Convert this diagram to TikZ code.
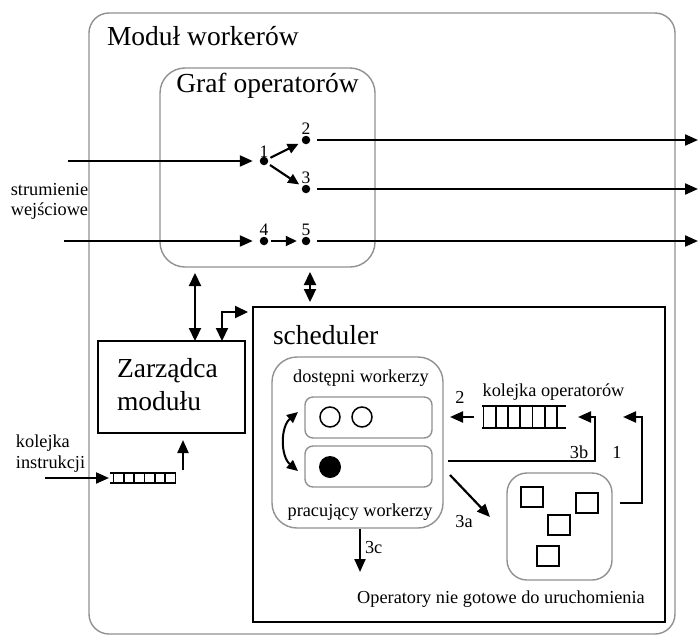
\documentclass[tikz,border=0pt]{standalone}
\usepackage{fontspec}
\setmainfont{Liberation Serif}
\usetikzlibrary{arrows.meta,calc}
\definecolor{gbord}{RGB}{145,145,145}
\begin{document}
\begin{tikzpicture}[x=1pt,y=-1pt,
  every node/.style={outer sep=0pt},
  gbox/.style={draw=gbord, line width=1.4pt, anchor=north west, inner sep=0pt},
  bbox/.style={draw=black, line width=1.8pt, anchor=north west, inner sep=0pt},
  big/.style={inner sep=0pt, font=\fontsize{27.5}{30}\selectfont},
  small/.style={inner sep=0pt, font=\fontsize{18.3}{21}\selectfont},
  num/.style={inner sep=0pt, font=\fontsize{17.5}{20}\selectfont},
  dot/.style={circle, fill=black, inner sep=0pt, minimum size=8.5pt},
  arr/.style={-{Triangle[length=13pt,width=11pt]}, line width=2.2pt},
  sarr/.style={-{Triangle[length=11pt,width=10pt]}, line width=2.2pt},
  dbl/.style={{Triangle[length=13pt,width=12pt]}-{Triangle[length=13pt,width=12pt]}, line width=2.2pt},
  qline/.style={line width=1.6pt},
  sq/.style={draw=black, line width=1.5pt, minimum width=22pt, minimum height=20pt, anchor=north west, inner sep=0pt},
  ]
\useasboundingbox (0,0) rectangle (698,637);

% boxes
\node[gbox, rounded corners=20pt, minimum width=586pt, minimum height=621pt] (mod) at (89,13) {};
\node[gbox, rounded corners=25pt, minimum width=215pt, minimum height=199pt] (graf) at (160,68) {};
\node[bbox, minimum width=147pt, minimum height=92pt] (zarz) at (98,341) {};
\node[bbox, minimum width=412pt, minimum height=315pt] (sched) at (253,307) {};
\node[gbox, rounded corners=25pt, minimum width=171pt, minimum height=171pt] (work) at (272,357) {};
\node[gbox, rounded corners=8pt, minimum width=127pt, minimum height=41pt] (wb1) at (305,397) {};
\node[gbox, rounded corners=8pt, minimum width=127pt, minimum height=41pt] (wb2) at (305,446) {};
\node[gbox, rounded corners=20pt, minimum width=105pt, minimum height=107pt] (nr) at (507,473) {};
\node[sq] (sq1) at (521,487) {};
\node[sq] (sq2) at (576,493) {};
\node[sq] (sq3) at (548,515) {};
\node[sq] (sq4) at (537,546) {};

% workers circles
\node[circle, draw, line width=1.5pt, minimum size=20pt, inner sep=0pt] (c1) at (330,417) {};
\node[circle, draw, line width=1.5pt, minimum size=20pt, inner sep=0pt] (c2) at (362,417) {};
\node[circle, fill=black, minimum size=22pt, inner sep=0pt] (c3) at (330,467) {};

% texts
\node[big, anchor=base west] (tmod) at (107,45) {Moduł workerów};
\node[big, anchor=base] (tgraf) at (267.5,92) {Graf operatorów};
\node[big, anchor=base west] (tsch) at (273,344) {scheduler};
\node[big, anchor=base west] (tz1) at (117,377) {Zarządca};
\node[big, anchor=base west] (tz2) at (117,410) {modułu};
\node[small, anchor=base] (tdost) at (361,382) {dostępni workerzy};
\node[small, anchor=base] (tprac) at (360,516) {pracujący workerzy};
\node[small, anchor=base] (tkop) at (553.5,396) {kolejka operatorów};
\node[small, anchor=base] (l2) at (460,403) {2};
\node[small, anchor=base] (l3b) at (579,458) {3b};
\node[small, anchor=base] (l1) at (617,458) {1};
\node[small, anchor=base] (l3a) at (464,527) {3a};
\node[small, anchor=base west] (l3c) at (365,553) {3c};
\node[small, anchor=base] (tnr) at (501,603) {Operatory nie gotowe do uruchomienia};
\node[small, anchor=base] (ts1) at (49.5,195) {strumienie};
\node[small, anchor=base] (ts2) at (49.5,215) {wejściowe};
\node[small, anchor=base west] (tk1) at (16,447) {kolejka};
\node[small, anchor=base west] (tk2) at (16,468) {instrukcji};

% graph dots
\node[dot] (n1) at (264,161) {};
\node[dot] (n2) at (306,140) {};
\node[dot] (n3) at (306,189) {};
\node[dot] (n4) at (264,241) {};
\node[dot] (n5) at (306,241) {};
\node[num, anchor=base] (ln1) at (264,157) {1};
\node[num, anchor=base] (ln2) at (306,134) {2};
\node[num, anchor=base] (ln3) at (306,183) {3};
\node[num, anchor=base] (ln4) at (264,235) {4};
\node[num, anchor=base] (ln5) at (306,235) {5};

% queues
\node[inner sep=0pt, minimum width=84pt, minimum height=22pt, anchor=north west] (qo) at (482,406) {};
\draw[qline] (qo.north west) -- (qo.north east) (qo.south west) -- (qo.south east);
\foreach \i in {0,...,6} \draw[qline] (483.5+12.25*\i,406) -- (483.5+12.25*\i,428);
\node[inner sep=0pt, minimum width=66pt, minimum height=10pt, anchor=north west] (qi) at (110,473) {};
\draw[qline] (qi.north west) -- (qi.north east) (qi.south west) -- (qi.south east);
\foreach \i in {0,...,6} \draw[qline] (113.5+10.3*\i,473) -- (113.5+10.3*\i,483);

% free coordinates
\coordinate (s1) at (68,161);
\coordinate (s2) at (64,241);
\coordinate (o2) at (698,140);
\coordinate (o3) at (698,189);
\coordinate (o5) at (698,241);
\coordinate (ax) at (195,300);
\coordinate (bx) at (310,300);
\coordinate (ex) at (222,312);
\coordinate (qs) at (45,478);
\coordinate (qa) at (183,470);
\coordinate (c3b) at (595,461);
\coordinate (c1c) at (642,503);
\coordinate (c1t) at (623,417);
\coordinate (a3s) at (450,475);
\coordinate (a3e) at (490,517);
\coordinate (c3c) at (360,572);
\coordinate (cu1) at (298,412);
\coordinate (cu2) at (298,471);

% graph connectors
\draw[arr, shorten >=7pt] (s1) -- (n1);
\draw[arr, shorten >=7pt] (s2) -- (n4);
\draw[sarr, shorten <=3pt, shorten >=4pt] (n1) -- (n2);
\draw[sarr, shorten <=3pt, shorten >=4pt] (n1) -- (n3);
\draw[sarr, shorten <=3pt, shorten >=5pt] (n4) -- (n5);
\draw[arr, shorten <=7pt] (n2) -- (o2);
\draw[arr, shorten <=7pt] (n3) -- (o3);
\draw[arr, shorten <=7pt] (n5) -- (o5);

% module connectors
\draw[dbl, shorten <=6pt] (graf.south -| ax) -- (zarz.north -| ax);
\draw[dbl, shorten <=5pt, shorten >=5pt] (graf.south -| bx) -- (sched.north -| bx);
\draw[dbl, shorten <=5pt] (sched.west |- ex) -| (zarz.north -| ex);
\draw[arr, shorten >=1pt] (qs) -- (qi.west);
\draw[arr, shorten >=7pt] (qa) -- (zarz.south -| qa);

% scheduler connectors
\draw[arr, shorten <=8pt, shorten >=18pt] (qo.west) -- (wb1.east |- qo.west);
\draw[arr, shorten <=16pt, shorten >=12pt] (wb2.east |- c3b) -- (c3b) |- (qo.east);
\draw[arr, shorten <=8pt] (nr.east |- c1c) -- (c1c) |- (c1t);
\draw[arr] (a3s) -- (a3e);
\draw[arr, shorten <=1pt] (work.south -| c3c) -- (c3c);
\draw[{Triangle[length=11pt,width=10pt]}-{Triangle[length=11pt,width=10pt]}, line width=2pt] (cu1) to[bend right=50] (cu2);
\end{tikzpicture}
\end{document}
